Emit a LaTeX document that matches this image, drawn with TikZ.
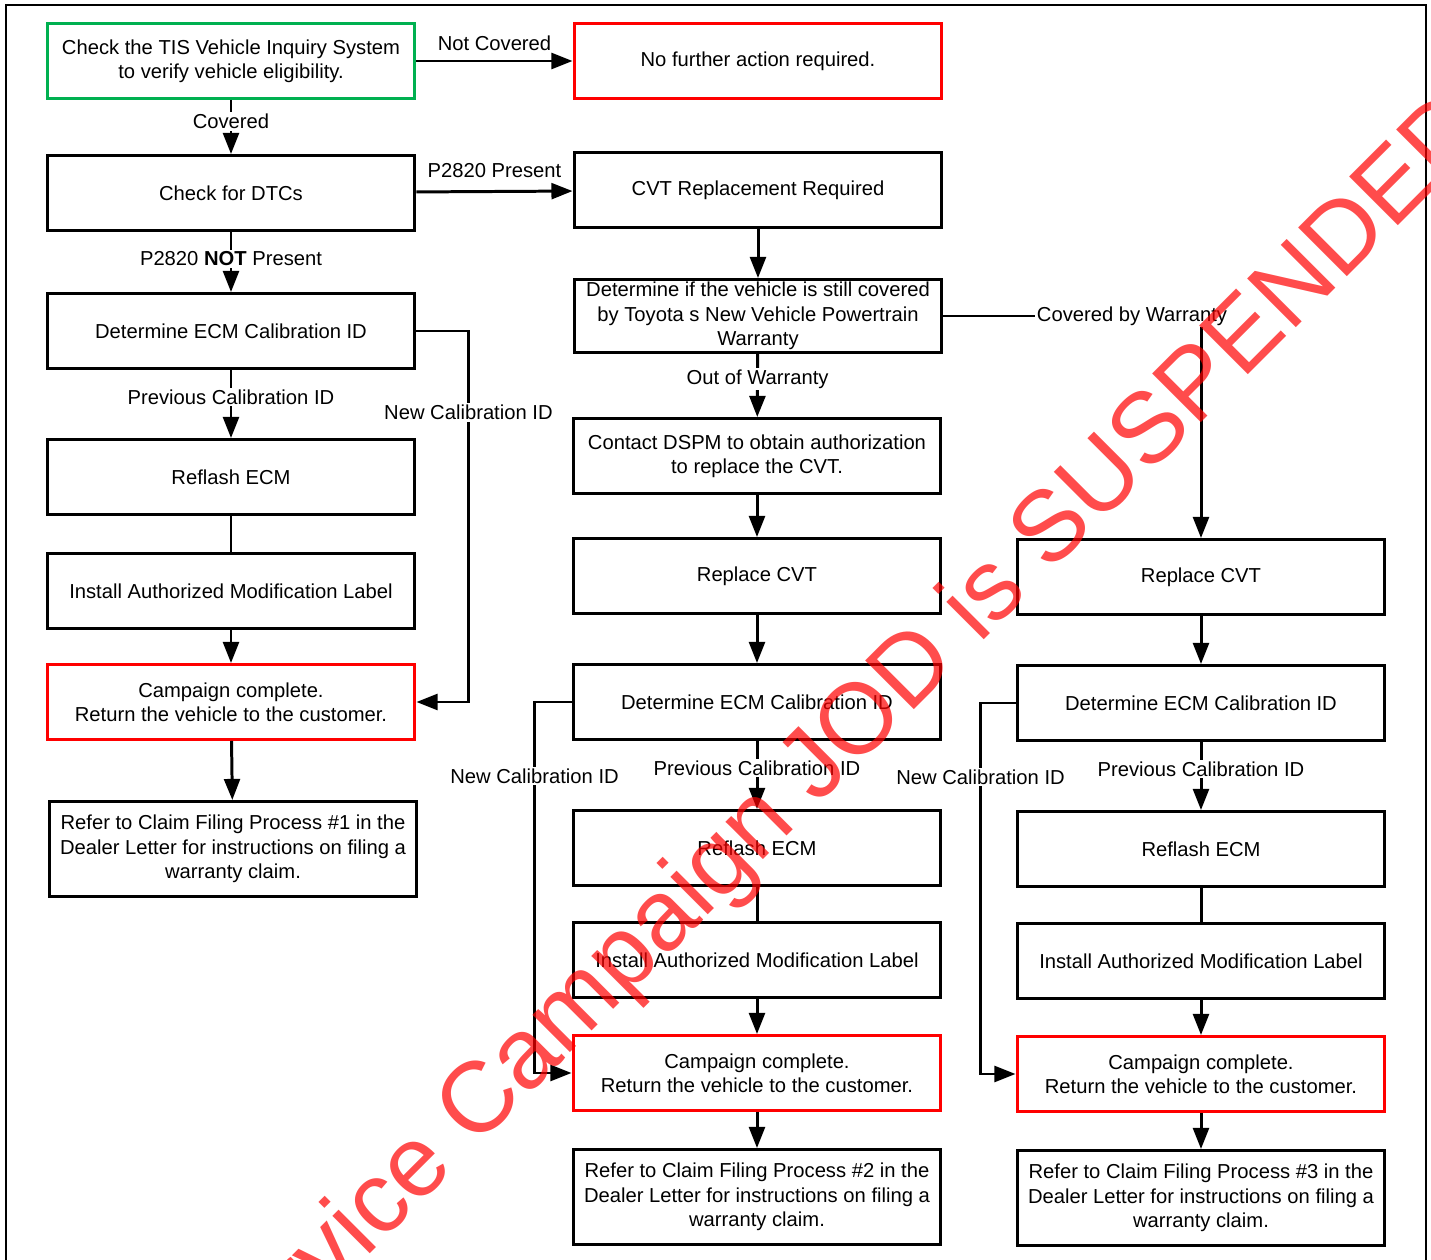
\documentclass[tikz,border=0pt]{standalone}
\usepackage{fontspec}
\setmainfont{Liberation Sans}
\usetikzlibrary{positioning, arrows.meta}
\definecolor{okgreen}{RGB}{0,176,80}
\tikzset{
->, % connectors are directed
>={Triangle[length=12pt, width=9pt]}, % solid triangular heads
every node/.style={font=\fontsize{11.5}{13.9}\selectfont}, % text size of the flow chart
block/.style={draw, rectangle, minimum width=7.36cm, minimum height=1.5cm, align=center, inner sep=0pt}, % plain step
startblock/.style={block, draw=okgreen}, % first check
endblock/.style={block, draw=red}, % where the flow stops
claimblock/.style={block, minimum height=1.9cm}, % claim filing note
lbl/.style={fill=white, inner sep=1pt}, % text sitting on a connector
}

\begin{document}
\begin{tikzpicture}[x=0.02cm, y=-0.02cm, line width=1.7pt]
    \useasboundingbox (0,0) rectangle (1431,1260);
    \draw[-, line width=1.1pt] (6,1260) -- (6,5) -- (1426,5) -- (1426,1260);

    % first column
    \node[startblock] (tis) at (231,61) {Check the TIS Vehicle Inquiry System\\to verify vehicle eligibility.};
    \node[block] (dtc) at (231,193) {Check for DTCs};
    \node[block] (ecm1) at (231,331) {Determine ECM Calibration ID};
    \node[block] (rfl1) at (231,477) {Reflash ECM};
    \node[block] (lab1) at (231,591) {Install Authorized Modification Label};
    \node[endblock] (done1) at (231,702) {Campaign complete.\\Return the vehicle to the customer.};
    \node[claimblock] (clm1) at (233,849) {Refer to Claim Filing Process \#1 in the\\Dealer Letter for instructions on filing a\\warranty claim.};

    % second column
    \node[endblock] (none) at (758,61) {No further action required.};
    \node[block] (cvt) at (758,190) {CVT Replacement Required};
    \node[block, minimum height=1.46cm] (cov) at (758,316) {Determine if the vehicle is still covered\\by Toyota s New Vehicle Powertrain\\Warranty};
    \node[block] (dspm) at (757,456) {Contact DSPM to obtain authorization\\to replace the CVT.};
    \node[block] (rep2) at (757,576) {Replace CVT};
    \node[block] (ecm2) at (757,702) {Determine ECM Calibration ID};
    \node[block] (rfl2) at (757,848) {Reflash ECM};
    \node[block] (lab2) at (757,960) {Install Authorized Modification Label};
    \node[endblock] (done2) at (757,1073) {Campaign complete.\\Return the vehicle to the customer.};
    \node[claimblock] (clm2) at (757,1197) {Refer to Claim Filing Process \#2 in the\\Dealer Letter for instructions on filing a\\warranty claim.};

    % third column
    \node[block] (rep3) at (1201,577) {Replace CVT};
    \node[block] (ecm3) at (1201,703) {Determine ECM Calibration ID};
    \node[block] (rfl3) at (1201,849) {Reflash ECM};
    \node[block] (lab3) at (1201,961) {Install Authorized Modification Label};
    \node[endblock] (done3) at (1201,1074) {Campaign complete.\\Return the vehicle to the customer.};
    \node[claimblock] (clm3) at (1201,1198) {Refer to Claim Filing Process \#3 in the\\Dealer Letter for instructions on filing a\\warranty claim.};

    \draw
    (tis) edge node[lbl, above=4pt]{Not Covered} (none)
    (tis) edge node[lbl, pos=0.4]{Covered} (dtc)
    (dtc) edge node[lbl, above=6pt]{P2820 Present} (cvt)
    (dtc) edge node[lbl, pos=0.45]{P2820 \textbf{NOT} Present} (ecm1)
    (ecm1) edge node[lbl, pos=0.4]{Previous Calibration ID} (rfl1)
    (rfl1) edge[-] (lab1)
    (lab1) edge (done1)
    (done1) edge (clm1)
    (cvt) edge (cov)
    (cov) edge node[lbl, pos=0.4]{Out of Warranty} (dspm)
    (dspm) edge (rep2)
    (rep2) edge (ecm2)
    (ecm2) edge node[lbl, pos=0.4]{Previous Calibration ID} (rfl2)
    (rfl2) edge[-] (lab2)
    (lab2) edge (done2)
    (done2) edge (clm2)
    (rep3) edge (ecm3)
    (ecm3) edge node[lbl, pos=0.4]{Previous Calibration ID} (rfl3)
    (rfl3) edge[-] (lab3)
    (lab3) edge (done3)
    (done3) edge (clm3);

    \draw (cov.east) -| node[lbl, pos=0.5, xshift=-1.38cm]{Covered by Warranty} (rep3.north);
    \draw (ecm1.east) -- ++(52,0) |- node[lbl, pos=0.11]{New Calibration ID} (done1.east);
    \draw (ecm2.west) -- ++(-37,0) |- node[lbl, pos=0.1]{New Calibration ID} (done2.west);
    \draw (ecm3.west) -- ++(-35,0) |- node[lbl, pos=0.1]{New Calibration ID} (done3.west);

    % stamp across the sheet
    \begin{scope}
    \clip (0,0) rectangle (1431,1260);
    \node[text=red, text opacity=0.7, rotate=45, font=\fontsize{57}{57}\selectfont] (stamp) at (837,750) {Service Campaign JOD is SUSPENDED};
    \end{scope}
\end{tikzpicture}
\end{document}
